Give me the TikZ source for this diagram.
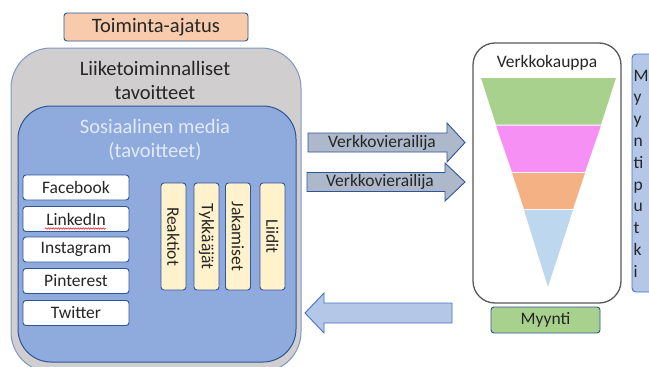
\documentclass[tikz,border=0pt]{standalone}
\usepackage{fontspec}
\setmainfont{Carlito}
\usetikzlibrary{decorations.pathmorphing}
\definecolor{peach}{HTML}{F8CBAD}
\definecolor{dkblue}{HTML}{2F5597}
\definecolor{midblue}{HTML}{4472C4}
\definecolor{grayfill}{HTML}{D0CECE}
\definecolor{grayedge}{HTML}{7F97C4}
\definecolor{smblue}{HTML}{8FAADC}
\definecolor{smtext}{HTML}{E2EAF6}
\definecolor{cream}{HTML}{FFF2CC}
\definecolor{arrgray}{HTML}{ADB9CA}
\definecolor{lightblue}{HTML}{B4C7E7}
\definecolor{fgreen}{HTML}{A9D18E}
\definecolor{fpink}{HTML}{F790F5}
\definecolor{forange}{HTML}{F4B183}
\definecolor{fblue}{HTML}{BDD7EE}
\definecolor{txt}{HTML}{262626}
\definecolor{shopedge}{HTML}{595959}
\tikzset{
  bigfont/.style={font=\fontsize{20.5}{25}\selectfont},
  midfont/.style={font=\fontsize{17.5}{21}\selectfont},
  rbox/.style={draw=dkblue, line width=0.9pt, rounded corners=3pt, inner sep=0pt, text=txt},
  plat/.style={rbox, fill=white, minimum width=106pt, minimum height=25pt, midfont},
  vbox/.style={rbox, fill=cream, minimum width=25pt, minimum height=107pt},
  vtext/.style={rotate=-90, midfont, text=txt, inner sep=0pt},
  blockarrow/.style={draw=dkblue, line width=0.9pt, fill=arrgray, line join=miter},
  lbl/.style={text=txt, inner sep=0pt},
  band/.style={draw=white, line width=1pt}
}
\begin{document}
\begin{tikzpicture}[x=1pt,y=-1pt]
\useasboundingbox (0,0) rectangle (649,367);
\fill[white] (0,0) rectangle (649,367);

% Toiminta-ajatus
\node[rbox, fill=peach, minimum width=184pt, minimum height=28pt, bigfont] (toim) at (156,27) {Toiminta-ajatus};

% outer gray box
\node[draw=grayedge, line width=1pt, fill=grayfill, rounded corners=40pt, minimum width=290pt, minimum height=324pt, inner sep=0pt] (outer) at (156,210) {};
\node[lbl, bigfont] (lt1) at (155,68) {Liiketoiminnalliset};
\node[lbl, bigfont] (lt2) at (155,93) {tavoitteet};

% inner blue box
\node[draw=dkblue, line width=1pt, fill=smblue, rounded corners=33pt, minimum width=278pt, minimum height=256pt, inner sep=0pt] (inner) at (157,234) {};
\node[lbl, text=smtext, bigfont] (sm1) at (155,126) {Sosiaalinen media};
\node[lbl, text=smtext, bigfont] (sm2) at (155,151) {(tavoitteet)};

% platforms
\node[plat] (fb) at (76,187.5) {Facebook};
\node[plat] (li) at (76,219) {LinkedIn};
\node[plat] (ig) at (76,249.5) {Instagram};
\node[plat] (pi) at (76,281) {Pinterest};
\node[plat] (tw) at (76,313) {Twitter};
\coordinate (wl) at (45,228.5);
\coordinate (wr) at (106,228.5);
\draw[red, line width=0.5pt, decorate, decoration={snake, amplitude=0.7pt, segment length=2.5pt}] (wl) -- (wr);

% vertical boxes
\node[vbox] (re) at (173.5,236.5) {};
\node[vtext] at (re.center) {Reaktiot};
\node[vbox] (ty) at (206.5,236.5) {};
\node[vtext] at (ty.center) {Tykkääjät};
\node[vbox] (ja) at (238,236.5) {};
\node[vtext] at (ja.center) {Jakamiset};
\node[vbox] (ld) at (272.5,236.5) {};
\node[vtext] at (ld.center) {Liidit};

% block arrows
\draw[blockarrow] (308,133) -- (447,133) -- (447,123) -- (465,142.5) -- (447,162) -- (447,152) -- (308,152) -- cycle;
\node[lbl, midfont] (v1) at (382,142.5) {Verkkovierailija};
\draw[blockarrow] (307,172.5) -- (445,172.5) -- (445,163) -- (465,182) -- (445,201) -- (445,191.5) -- (307,191.5) -- cycle;
\node[lbl, midfont] (v2) at (380,182) {Verkkovierailija};
\draw[draw=midblue, line width=0.9pt, fill=lightblue, line join=miter] (305,313) -- (324,293) -- (324,303) -- (452,303) -- (452,323) -- (324,323) -- (324,333) -- cycle;

% Verkkokauppa
\node[draw=shopedge, line width=1.3pt, fill=white, rounded corners=22pt, minimum width=148pt, minimum height=260pt, inner sep=0pt] (shop) at (547,173) {};
\node[lbl, midfont] (shopt) at (547,63) {Verkkokauppa};

% funnel
\fill[fgreen] (481,78) -- (616,78) -- (601,124.5) -- (496,124.5) -- cycle;
\fill[fpink] (496,125.5) -- (601,125.5) -- (585,172) -- (512,172) -- cycle;
\fill[forange] (512,173) -- (585,173) -- (573,209) -- (524,209) -- cycle;
\fill[fblue] (524,210) -- (573,210) -- (548,287) -- cycle;

% Myynti
\node[rbox, fill=fgreen, minimum width=109pt, minimum height=26pt, midfont] (myynti) at (545.5,320) {Myynti};

% Myyntiputki
\draw[draw=midblue, line width=0.9pt, fill=lightblue, rounded corners=4pt] (632,54) rectangle (680,292);
\foreach \l [count=\i from 0] in {M,y,y,n,ti,p,u,t,k,i} {
  \node[lbl, anchor=base west, midfont] (mp\i) at (633.5,81+21.8*\i) {\l};
}
\end{tikzpicture}
\end{document}
